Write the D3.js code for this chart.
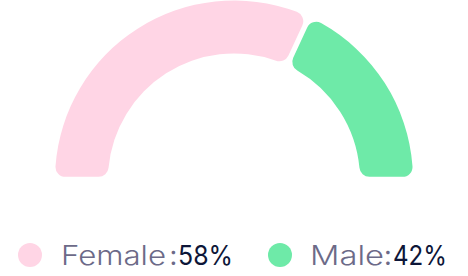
<!DOCTYPE html>
<html><head><meta charset="utf-8">
<script src="https://cdn.jsdelivr.net/npm/d3@7"></script>
<style>body{margin:0;background:#fff}svg{display:block}</style>
</head><body>
<svg id="c" width="468" height="276"></svg>
<script>
const categories = ["Female", "Male"];
const labelValues = [58, 42];          // percentages printed in the legend
const arcShares = [64, 36];            // share of the half-ring each arc covers
const colors = ["#FFD5E5", "#6EEAA8"];

const svg = d3.select("#c");
const cx = 234, cy = 179.5, outerR = 179, innerR = 126;

const pie = d3.pie().sort(null).startAngle(-Math.PI/2).endAngle(Math.PI/2).padAngle(0.024);
const arc = d3.arc().innerRadius(innerR).outerRadius(outerR).cornerRadius(10);

const g = svg.append("g").attr("transform", `translate(${cx},${cy})`);
g.selectAll("path").data(pie(arcShares)).join("path")
  .attr("d", arc).attr("fill", (d,i)=>colors[i]);

// legend
const legend = [
  {cx:30, name:[61,105], colon:169.5, val:[178,55]},
  {cx:280, name:[310,74], colon:384, val:[393,54]}
];
const font = "Inter, 'DejaVu Sans', sans-serif";
const fs = "27px";
const lg = svg.selectAll("g.leg").data(categories).join("g").attr("class","leg");
lg.append("circle").attr("cx",(d,i)=>legend[i].cx).attr("cy",255).attr("r",12).attr("fill",(d,i)=>colors[i]);
lg.append("text").attr("x",(d,i)=>legend[i].name[0]).attr("y",265)
  .attr("textLength",(d,i)=>legend[i].name[1]).attr("lengthAdjust","spacingAndGlyphs")
  .style("font-family",font).style("font-size",fs).style("font-weight",300).attr("fill","#6C6A88").text(d=>d);
lg.append("text").attr("x",(d,i)=>legend[i].colon).attr("y",265)
  .style("font-family",font).style("font-size",fs).style("font-weight",400).attr("fill","#6C6A88").text(":");
lg.append("text").attr("x",(d,i)=>legend[i].val[0]).attr("y",265)
  .attr("textLength",(d,i)=>legend[i].val[1]).attr("lengthAdjust","spacingAndGlyphs")
  .style("font-family",font).style("font-size",fs).style("font-weight",400).attr("fill","#0D1638")
  .text((d,i)=>labelValues[i]+"%");
</script>
</body></html>
